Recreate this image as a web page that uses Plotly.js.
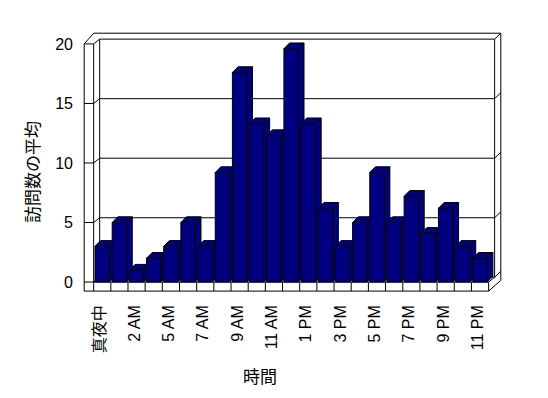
<!DOCTYPE html>
<html>
<head>
<meta charset="utf-8">
<script src="https://cdn.plot.ly/plotly-3.0.1.min.js"></script>
<style>html,body{margin:0;padding:0;background:#fff;}#chart{width:548px;height:398px;}</style>
</head>
<body>
<div id="chart"></div>
<script>
// ---- data ----
const categories = ['真夜中','1 AM','2 AM','3 AM','5 AM','6 AM','7 AM','8 AM','9 AM','10 AM','11 AM','12 PM',
                    '1 PM','2 PM','3 PM','4 PM','5 PM','6 PM','7 PM','8 PM','9 PM','10 PM','11 PM'];
const visits = [3, 5, 1, 2, 3, 5, 3, 9.2, 17.6, 13.3, 12.3, 19.6,
                13.3, 6.2, 3, 5, 9.2, 5, 7.2, 4.1, 6.2, 3, 2];
const yTicks = [0, 5, 10, 15, 20];
const xTitle = '時間';
const yTitle = '訪問数の平均';

// ---- 3D box geometry (data units) ----
const n = categories.length;
const xIdx = categories.map((_, i) => i);
const XL = -1.05, XI = -0.5, XR = n - 0.5;
const FLOOR = 0.76;
const BDX = 0.35, BDY = 0.4;   // front plane -> back wall
const RDX = 0.36, RDY = 0.5;   // wall thickness
const BW = 0.84;               // bar front width
const DDX = 0.33, DDY = 0.48;  // bar depth
const yMax = yTicks[yTicks.length - 1];

const shapes = [];
const ln = {color: '#000', width: 1};
function line(x0, y0, x1, y1) {
  shapes.push({type: 'line', xref: 'x', yref: 'y', x0, y0, x1, y1, line: ln, layer: 'below'});
}
function poly(pts, fill) {
  const p = 'M' + pts.map(q => q[0] + ',' + q[1]).join('L') + 'Z';
  shapes.push({type: 'path', xref: 'x', yref: 'y', path: p, fillcolor: fill, line: ln, layer: 'below'});
}

// left wall
line(XL, -FLOOR, XL, yMax);
line(XI, -FLOOR, XI, yMax);
line(XI + BDX, BDY, XI + BDX, yMax + BDY);
// outer top
line(XL, yMax, XI, yMax + BDY + RDY);
line(XI, yMax + BDY + RDY, XR + BDX + RDX, yMax + BDY + RDY);
// right side
line(XR + BDX, BDY, XR + BDX, yMax + BDY);
line(XR + BDX + RDX, -FLOOR + BDY + RDY, XR + BDX + RDX, yMax + BDY + RDY);
// floor
line(XL, -FLOOR, XR, -FLOOR);
line(XI, 0, XR, 0);
line(XR, 0, XR, -FLOOR);
line(XR, 0, XR + BDX, BDY);
line(XR, -FLOOR, XR + BDX + RDX, -FLOOR + BDY + RDY);
for (let k = 1; k < n; k++) line(k - 0.5, -FLOOR, k - 0.5, 0);
// gridlines on back wall + ticks on side walls
yTicks.forEach(v => {
  line(XL, v, XI, v);
  line(XI, v, XI + BDX, v + BDY);
  line(XI + BDX, v + BDY, XR + BDX, v + BDY);
  line(XR + BDX, v + BDY, XR + BDX + RDX, v + BDY + RDY);
});
// bar depth faces
const navy = '#000080';
visits.forEach((v, i) => {
  const x0 = xIdx[i] - BW / 2, x1 = xIdx[i] + BW / 2;
  poly([[x1, 0], [x1 + DDX, DDY], [x1 + DDX, v + DDY], [x1, v]], navy);
  poly([[x0, v], [x1, v], [x1 + DDX, v + DDY], [x0 + DDX, v + DDY]], navy);
});

const font = {family: '"Liberation Sans", Arial, "Noto Sans CJK JP", sans-serif', size: 16, color: '#000'};

const data = [{
  type: 'bar', x: xIdx, y: visits, width: BW,
  marker: {color: navy, line: {color: '#000', width: 1}},
  hoverinfo: 'skip'
}];

const layout = {
  width: 548, height: 398,
  margin: {l: 83, r: 46, t: 32, b: 105},
  paper_bgcolor: '#fff', plot_bgcolor: 'rgba(0,0,0,0)',
  showlegend: false,
  font: font,
  xaxis: {
    range: [-1.12, 23.28], showgrid: false, zeroline: false, showline: false, ticks: '',
    tickvals: xIdx.filter(i => i % 2 === 0).map(i => i - 0.12),
    ticktext: categories.filter((_, i) => i % 2 === 0),
    tickangle: -90, ticklabelstandoff: 8, tickfont: font, fixedrange: true
  },
  yaxis: {
    range: [-0.92, 21.0], showgrid: false, zeroline: false, showline: false, ticks: '',
    tickvals: yTicks, ticklabelstandoff: 9, tickfont: font, fixedrange: true
  },
  annotations: [{
    text: xTitle, xref: 'paper', yref: 'paper', x: 0.4224, y: -0.322,
    xanchor: 'center', yanchor: 'middle', showarrow: false,
    font: {family: font.family, size: 17, color: '#000'}
  }, {
    text: yTitle, xref: 'paper', yref: 'paper', x: -0.1193, y: 0.4636, textangle: -90,
    xanchor: 'center', yanchor: 'middle', showarrow: false,
    font: {family: font.family, size: 17, color: '#000'}
  }],
  shapes: shapes
};

Plotly.newPlot('chart', data, layout, {staticPlot: true, displayModeBar: false});
</script>
</body>
</html>
